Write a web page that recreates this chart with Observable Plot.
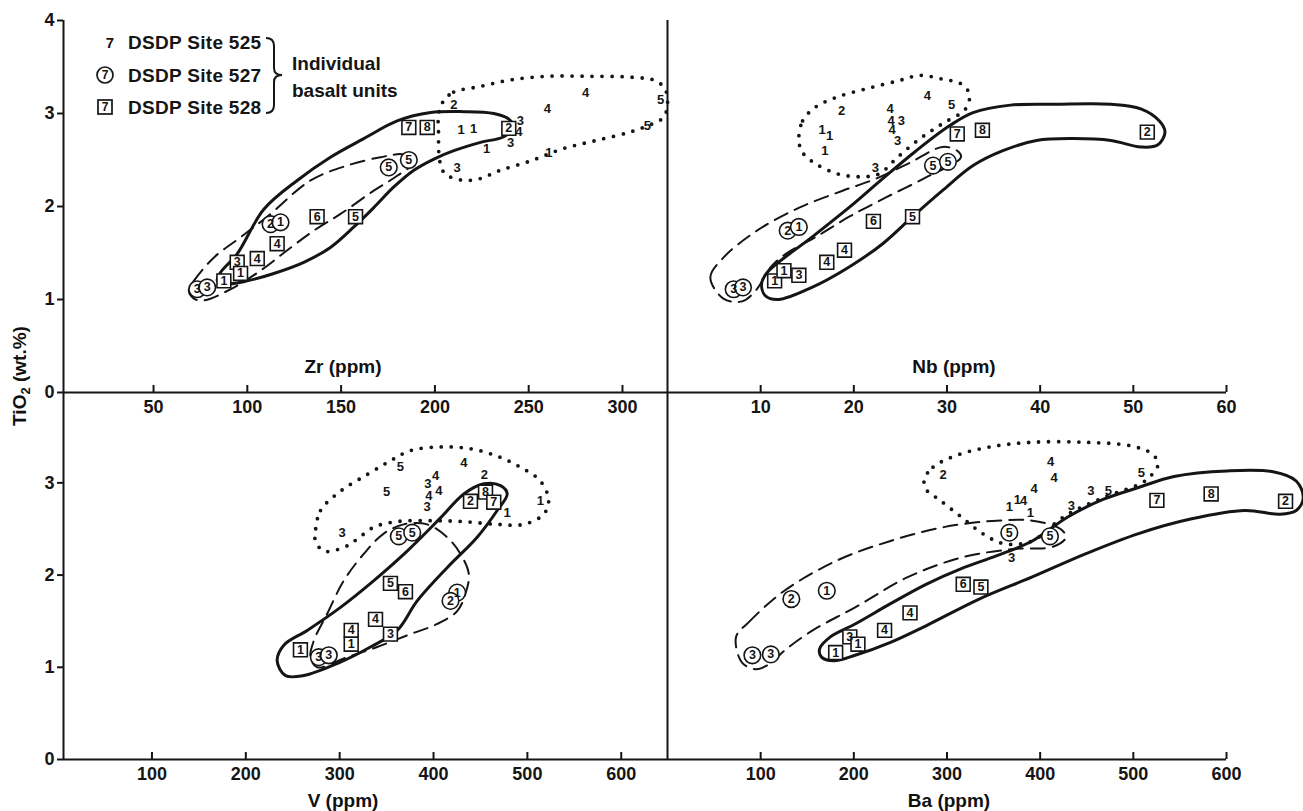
<!DOCTYPE html>
<html>
<head>
<meta charset="utf-8">
<script src="https://cdn.jsdelivr.net/npm/d3@7"></script>
<script src="https://cdn.jsdelivr.net/npm/@observablehq/plot@0.6"></script>
<style>
  html, body { margin: 0; padding: 0; background: #fff; }
  #chart { position: relative; width: 1303px; height: 811px; background: #fff; overflow: hidden;
           font-family: 'Liberation Sans', Arial, Helvetica, sans-serif; color: #111; }
  .lbl { position: absolute; transform: translate(-50%, -50%); font-size: 19px; font-weight: bold; white-space: nowrap; }
  .ylbl { position: absolute; transform: translate(-50%, -50%) rotate(-90deg); font-size: 19px; font-weight: bold; white-space: nowrap; }
  .ylbl sub { font-size: 13px; }
</style>
</head>
<body>
<div id="chart"></div>
<script>
// ---------- DATA (TiO2 wt.% vs trace elements, ppm) ----------
// Tick values
const zrTicks = [50, 100, 150, 200, 250, 300];
const nbTicks = [10, 20, 30, 40, 50, 60];
const vTicks = [100, 200, 300, 400, 500, 600];
const baTicks = [100, 200, 300, 400, 500, 600];
const tiTicksTop = [0, 1, 2, 3, 4];
const tiTicksBottom = [0, 1, 2, 3];

// --- Zr panel: [Zr, TiO2, unit]
const zr525 = [[210.1,3.09,"2"],[214,2.82,"1"],[220.7,2.84,"1"],[245.6,2.92,"3"],[244.7,2.80,"4"],[240.3,2.69,"3"],[227.5,2.62,"1"],[211.9,2.42,"3"],[259.9,3.05,"4"],[280.3,3.22,"4"],[313.2,2.87,"5"],[320.3,3.15,"5"],[260.7,2.58,"1"]];
const zr527 = [[112.4,1.81,"2"],[117.7,1.83,"1"],[175.4,2.42,"5"],[186.1,2.50,"5"],[73.3,1.11,"3"],[78.6,1.13,"3"]];
const zr528 = [[186.1,2.85,"7"],[195.9,2.85,"8"],[239.4,2.84,"2"],[137.2,1.89,"6"],[157.7,1.89,"5"],[115.9,1.60,"4"],[105.3,1.44,"4"],[94.6,1.40,"3"],[96.4,1.28,"1"],[87.5,1.20,"1"]];
const zrField525 = [[204.8,3.14],[210,3.23],[224,3.29],[240,3.36],[260,3.40],[282,3.40],[305,3.39],[318,3.35],[323,3.25],[324,3.10],[322,2.96],[316,2.89],[304,2.80],[286,2.71],[268,2.62],[251,2.49],[235,2.39],[224,2.30],[216,2.28],[208,2.32],[204,2.39],[202,2.60],[202,2.75],[202,3.00]];
const zrField527 = [[68.8,1.10],[71.5,1.20],[82.1,1.45],[96.4,1.67],[110.6,1.89],[133.7,2.28],[153.2,2.44],[171,2.53],[183.4,2.56],[189.7,2.49],[179.9,2.33],[167.4,2.17],[149.7,1.92],[135.4,1.74],[121.3,1.53],[107,1.31],[91,1.11],[76.8,0.99],[71.5,1.01]];
const zrField528 = [[84,1.20],[85.7,1.29],[94.6,1.49],[108.8,1.97],[126.6,2.28],[144.3,2.53],[162.1,2.73],[179.9,2.92],[197.7,3.01],[215.4,3.02],[231.4,3.00],[239.4,2.94],[242,2.85],[236.7,2.75],[224.3,2.69],[210.1,2.60],[199.5,2.51],[188.8,2.39],[178.1,2.21],[167.5,1.99],[156.8,1.78],[144.3,1.56],[130.1,1.40],[114.1,1.28],[99.9,1.20],[90,1.17]];

// --- Nb panel
const nb525 = [[18.7,3.03,"2"],[16.6,2.82,"1"],[17.4,2.76,"1"],[16.9,2.60,"1"],[23.9,3.05,"4"],[24.0,2.92,"4"],[25.1,2.92,"3"],[24.1,2.82,"4"],[24.7,2.71,"3"],[22.3,2.42,"3"],[27.9,3.19,"4"],[30.5,3.09,"5"]];
const nb527 = [[12.9,1.74,"2"],[14.1,1.78,"1"],[28.5,2.44,"5"],[30.1,2.48,"5"],[7.1,1.11,"3"],[8.1,1.13,"3"]];
const nb528 = [[51.5,2.80,"2"],[31.1,2.78,"7"],[33.8,2.82,"8"],[22.1,1.84,"6"],[26.3,1.89,"5"],[19.0,1.53,"4"],[17.1,1.40,"4"],[14.1,1.26,"3"],[11.5,1.20,"1"],[12.5,1.31,"1"]];
const nbField525 = [[14.1,2.71],[14.5,2.92],[15.9,3.07],[18.3,3.18],[21.5,3.27],[24.7,3.35],[27.1,3.41],[29.5,3.37],[31.5,3.32],[32.4,3.21],[32.0,3.05],[29.5,2.89],[27.1,2.73],[24.7,2.53],[22.7,2.35],[20.7,2.32],[18.3,2.35],[15.9,2.46],[14.5,2.58]];
const nbField527 = [[6.0,1.01],[4.6,1.24],[6.0,1.45],[9.6,1.74],[14.2,1.99],[18.8,2.17],[22.4,2.30],[26,2.47],[29.5,2.64],[31.1,2.60],[31.5,2.53],[27.9,2.32],[23.5,2.10],[19.5,1.89],[15.9,1.67],[12.7,1.49],[11.1,1.35],[9.5,1.10],[8,0.98]];
const nbField528 = [[10.7,1.29],[15.5,1.67],[19.5,1.99],[23.1,2.30],[26.7,2.60],[30.3,2.87],[32.8,3.01],[36.8,3.09],[41.6,3.10],[47.6,3.10],[50.8,3.05],[52.8,2.92],[53.4,2.80],[52.6,2.66],[50.8,2.64],[47.6,2.71],[43.6,2.73],[39.6,2.71],[36.0,2.60],[32.8,2.44],[29.5,2.17],[26.3,1.89],[23.1,1.60],[19.5,1.35],[15.5,1.13],[11.9,1.00],[10.5,1.04],[10.1,1.17]];

// --- V panel
const v525 = [[364.8,3.17,"5"],[349.9,2.90,"5"],[402.1,3.08,"4"],[394,2.99,"3"],[405.6,2.91,"4"],[395,2.86,"4"],[393.2,2.74,"3"],[432.3,3.22,"4"],[454.3,3.09,"2"],[478.5,2.68,"1"],[513.9,2.81,"1"],[302.7,2.46,"3"]];
const v527 = [[277.8,1.11,"3"],[288.4,1.13,"3"],[363,2.42,"5"],[377.3,2.46,"5"],[425.2,1.81,"1"],[418.1,1.72,"2"]];
const v528 = [[258.2,1.19,"1"],[312.3,1.40,"4"],[312.3,1.25,"1"],[338.2,1.52,"4"],[354.1,1.36,"3"],[354.1,1.91,"5"],[370.1,1.82,"6"],[439.4,2.80,"2"],[455.4,2.90,"8"],[464.2,2.79,"7"]];
const vField525 = [[274.2,2.48],[279.6,2.70],[300.9,2.91],[329.3,3.09],[354.1,3.24],[375.4,3.35],[407.4,3.39],[439.4,3.37],[467.8,3.29],[492.6,3.17],[513.9,3.02],[522.7,2.81],[517.4,2.66],[496.2,2.55],[467.8,2.55],[432.3,2.58],[396.8,2.59],[361.3,2.58],[336.4,2.52],[318.7,2.39],[304.4,2.30],[283.1,2.26],[274.2,2.37]];
const vField527 = [[272.5,1.29],[286.7,1.58],[304.4,1.94],[325.7,2.23],[347,2.45],[368.3,2.55],[393.2,2.55],[414.5,2.41],[428.7,2.23],[437.6,2.01],[434.1,1.80],[425.2,1.61],[403.9,1.47],[375.4,1.36],[340,1.22],[308,1.11],[276,1.00],[268.9,1.11]];
const vField528 = [[233.4,1.07],[240.5,1.24],[265.4,1.40],[300.9,1.65],[336.4,1.94],[371.9,2.26],[407.4,2.62],[432.3,2.88],[453.6,2.99],[471.4,2.97],[478.5,2.88],[467.8,2.70],[446.5,2.41],[414.5,2.08],[382.6,1.72],[361.3,1.40],[332.8,1.22],[297.3,1.04],[261.8,0.91],[242.3,0.91]];

// --- Ba panel
const ba525 = [[295.7,3.09,"2"],[411.3,3.23,"4"],[415,3.06,"4"],[393.5,2.93,"4"],[366.9,2.74,"1"],[375.6,2.82,"1"],[382.1,2.81,"4"],[389.6,2.67,"1"],[369.4,2.19,"3"],[433.4,2.75,"3"],[454.3,2.91,"3"],[473.3,2.91,"5"],[508.6,3.11,"5"]];
const ba527 = [[132.9,1.74,"2"],[171,1.83,"1"],[91.1,1.13,"3"],[110.9,1.14,"3"],[366.9,2.46,"5"],[410.5,2.42,"5"]];
const ba528 = [[663.4,2.80,"2"],[583.5,2.88,"8"],[525.3,2.81,"7"],[317.4,1.90,"6"],[336.4,1.87,"5"],[260.3,1.59,"4"],[233,1.40,"4"],[195.7,1.33,"3"],[204.4,1.25,"1"],[180.5,1.16,"1"]];
const baField525 = [[275.6,3.04],[285,3.17],[307.9,3.29],[346,3.39],[391.6,3.44],[448.6,3.44],[498,3.40],[520.8,3.31],[526.5,3.20],[520.8,3.10],[509.4,3.00],[467.5,2.84],[429.6,2.66],[414.4,2.55],[391.6,2.37],[361.2,2.34],[338.3,2.45],[315.4,2.63],[292.7,2.81],[277.5,2.93]];
const baField527 = [[73.6,1.33],[87.3,1.49],[125.4,1.83],[182.4,2.16],[239.4,2.37],[296.5,2.52],[353.5,2.59],[391.6,2.59],[421.9,2.50],[427.7,2.41],[414.4,2.31],[368.7,2.28],[315.4,2.19],[258.4,1.98],[201.4,1.65],[155.8,1.40],[125.4,1.18],[110.2,1.04],[95,0.98],[80,1.05]];
const baField528 = [[163.3,1.20],[174.8,1.33],[201.4,1.47],[239.4,1.69],[277.5,1.90],[315.4,2.07],[353.5,2.21],[391.6,2.37],[429.6,2.63],[467.5,2.82],[505.6,2.95],[543.7,3.07],[600.7,3.13],[650,3.12],[674.8,3.02],[682.4,2.84],[674.8,2.70],[657.6,2.66],[619.7,2.70],[562.7,2.61],[505.6,2.45],[448.6,2.23],[391.6,1.98],[334.5,1.74],[277.5,1.45],[239.4,1.27],[201.4,1.13],[178.6,1.07],[165.3,1.11]];

// ---------- RENDERING ----------
const INK = "#151515";
const FONT = "'Liberation Sans', Arial, Helvetica, sans-serif";
const W = 1303, H = 811;

function panel(cfg) {
  const {xDomain, yDomain, left, right, top, bottom, xTicks, yTicks, isLeft,
         f525, f527, f528, s525, s527, s528} = cfg;
  const ky = (bottom - top) / (yDomain[1] - yDomain[0]);
  const kx = (right - left) / (xDomain[1] - xDomain[0]);
  const X = d => d[0], Y = d => d[1], T = d => d[2];
  const marks = [
    Plot.line(f525, {x: X, y: Y, curve: "catmull-rom-closed", stroke: INK, strokeWidth: 3.8,
                     strokeDasharray: "0 10", strokeLinecap: "round"}),
    Plot.line(f527, {x: X, y: Y, curve: "catmull-rom-closed", stroke: INK, strokeWidth: 2,
                     strokeDasharray: "14 8"}),
    Plot.line(f528, {x: X, y: Y, curve: "catmull-rom-closed", stroke: INK, strokeWidth: 3}),
    Plot.ruleY([yDomain[0]], {stroke: INK, strokeWidth: 2}),
    Plot.ruleX([xDomain[0]], {stroke: INK, strokeWidth: 2}),
    Plot.ruleX(xTicks, {x: d => d, y1: () => yDomain[0], y2: () => yDomain[0] + 7 / ky, stroke: INK, strokeWidth: 2}),
    Plot.text(xTicks, {x: d => d, y: () => yDomain[0], dy: 15, text: d => String(d),
                       fontSize: 18, fontWeight: "bold", fill: INK})
  ];
  if (isLeft) {
    marks.push(
      Plot.ruleY(yTicks, {y: d => d, x1: () => xDomain[0] - 6 / kx, x2: () => xDomain[0], stroke: INK, strokeWidth: 2}),
      Plot.text(yTicks, {x: () => xDomain[0], y: d => d, dx: -9, textAnchor: "end", text: d => String(d),
                         fontSize: 18, fontWeight: "bold", fill: INK})
    );
  }
  marks.push(
    // Site 525: plain numbers
    Plot.text(s525, {x: X, y: Y, text: T, fontSize: 13, fontWeight: "bold", fill: INK}),
    // Site 527: circled numbers
    Plot.dot(s527, {x: X, y: Y, r: 8.3, fill: "white", stroke: INK, strokeWidth: 1.6}),
    Plot.text(s527, {x: X, y: Y, text: T, fontSize: 12.5, fontWeight: "bold", fill: INK}),
    // Site 528: boxed numbers
    Plot.dot(s528, {x: X, y: Y, r: 7.8, symbol: "square", fill: "white", stroke: INK, strokeWidth: 1.6}),
    Plot.text(s528, {x: X, y: Y, text: T, fontSize: 12.5, fontWeight: "bold", fill: INK})
  );
  return Plot.plot({
    width: W, height: H,
    marginLeft: left, marginRight: W - right, marginTop: top, marginBottom: H - bottom,
    x: {domain: xDomain, axis: null},
    y: {domain: yDomain, axis: null},
    style: {background: "transparent", position: "absolute", left: "0px", top: "0px",
            fontFamily: FONT, overflow: "visible", color: INK},
    marks
  });
}

const chart = document.getElementById("chart");
chart.append(
  panel({xDomain: [2, 324], yDomain: [0, 4], left: 63, right: 667, top: 20, bottom: 392,
         xTicks: zrTicks, yTicks: tiTicksTop, isLeft: true,
         f525: zrField525, f527: zrField527, f528: zrField528, s525: zr525, s527: zr527, s528: zr528}),
  panel({xDomain: [0, 60], yDomain: [0, 4], left: 667, right: 1226, top: 20, bottom: 392,
         xTicks: nbTicks, yTicks: [], isLeft: false,
         f525: nbField525, f527: nbField527, f528: nbField528, s525: nb525, s527: nb527, s528: nb528}),
  panel({xDomain: [5.75, 649.3], yDomain: [0, 3.98], left: 63, right: 667, top: 392, bottom: 759,
         xTicks: vTicks, yTicks: tiTicksBottom, isLeft: true,
         f525: vField525, f527: vField527, f528: vField528, s525: v525, s527: v527, s528: v528}),
  panel({xDomain: [0, 600], yDomain: [0, 3.98], left: 667, right: 1226, top: 392, bottom: 759,
         xTicks: baTicks, yTicks: [], isLeft: false,
         f525: baField525, f527: baField527, f528: baField528, s525: ba525, s527: ba527, s528: ba528})
);

// Axis titles
const titles = [["Zr (ppm)", 343, 367], ["Nb (ppm)", 954, 367], ["V (ppm)", 343, 801], ["Ba (ppm)", 949, 801]];
for (const [t, x, y] of titles) {
  const d = document.createElement("div");
  d.className = "lbl"; d.textContent = t;
  d.style.left = x + "px"; d.style.top = y + "px";
  chart.append(d);
}
const yl = document.createElement("div");
yl.className = "ylbl";
yl.innerHTML = "TiO<sub>2</sub> (wt.%)";
yl.style.left = "21px"; yl.style.top = "376px";
chart.append(yl);

// Legend
const legendSites = ["DSDP Site 525", "DSDP Site 527", "DSDP Site 528"];
const legendNote = ["Individual", "basalt units"];
const ns = "http://www.w3.org/2000/svg";
const lg = document.createElementNS(ns, "svg");
lg.setAttribute("width", 420); lg.setAttribute("height", 140);
lg.style.position = "absolute"; lg.style.left = "0px"; lg.style.top = "0px";
lg.style.fontFamily = FONT;
const rowsY = [42, 75, 107];
let html = "";
html += `<text x="110" y="${rowsY[0]}" font-size="15" font-weight="bold" text-anchor="middle" dominant-baseline="central" fill="${INK}">7</text>`;
html += `<circle cx="105" cy="${rowsY[1]}" r="8" fill="white" stroke="${INK}" stroke-width="1.7"/>`;
html += `<text x="105" y="${rowsY[1]}" font-size="12" font-weight="bold" text-anchor="middle" dominant-baseline="central" fill="${INK}">7</text>`;
html += `<rect x="98" y="${rowsY[2]-7}" width="14" height="14" fill="white" stroke="${INK}" stroke-width="1.7"/>`;
html += `<text x="105" y="${rowsY[2]}" font-size="12" font-weight="bold" text-anchor="middle" dominant-baseline="central" fill="${INK}">7</text>`;
legendSites.forEach((s, i) => {
  html += `<text x="128" y="${rowsY[i]}" font-size="19" font-weight="bold" letter-spacing="0.3" dominant-baseline="central" fill="${INK}">${s}</text>`;
});
html += `<path d="M266,38 Q274,38 274,46 L274,68 Q274,75 282,75 Q274,75 274,82 L274,105 Q274,113 266,113" fill="none" stroke="${INK}" stroke-width="2"/>`;
html += `<text x="292" y="63" font-size="19" font-weight="bold" dominant-baseline="central" fill="${INK}">${legendNote[0]}</text>`;
html += `<text x="292" y="90" font-size="19" font-weight="bold" dominant-baseline="central" fill="${INK}">${legendNote[1]}</text>`;
lg.innerHTML = html;
chart.append(lg);
</script>
</body>
</html>
